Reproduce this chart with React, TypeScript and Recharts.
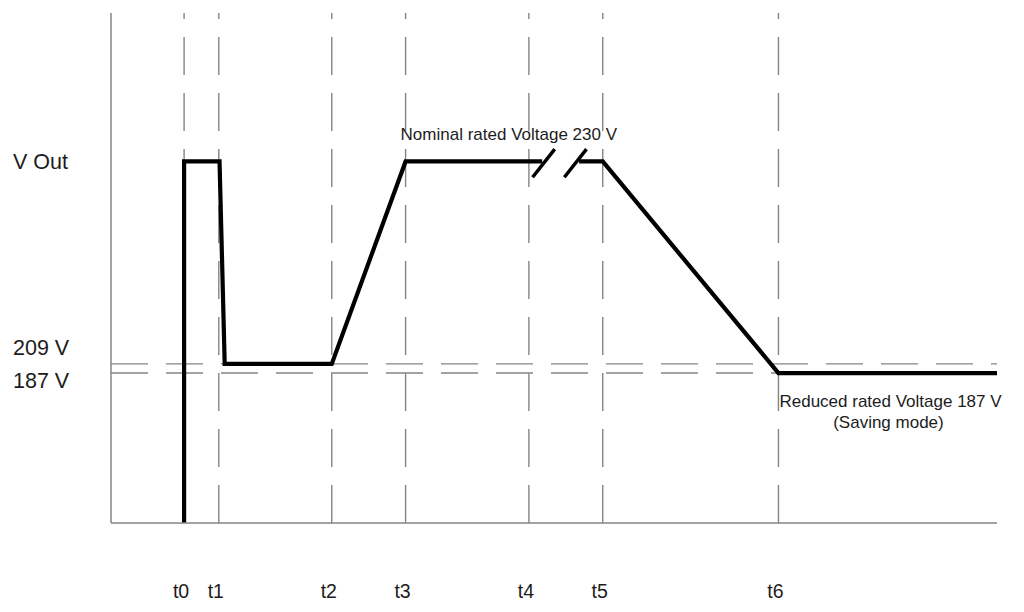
import React from 'react';
import { LineChart, Line, XAxis, YAxis, ReferenceLine, ReferenceDot } from 'recharts';

// time instants (arbitrary units, 0-120 across the axis)
const timeLabels = ['t0', 't1', 't2', 't3', 't4', 't5', 't6'];
const timeMarks = [9.9, 14.6, 29.9, 39.9, 56.6, 66.6, 90.4];

// schematic output level (0-100, not to scale)
const levelLabels = ['187 V', '209 V', 'V Out'];
const levelMarks = [29.4, 31.2, 70.9];

// output voltage trace, split at the time break between t4 and t5
const traceBeforeBreak = [
  { t: 9.9, v: 0 },
  { t: 9.9, v: 70.9 },
  { t: 14.7, v: 70.9 },
  { t: 15.4, v: 31.2 },
  { t: 29.9, v: 31.2 },
  { t: 39.9, v: 70.9 },
  { t: 58.4, v: 70.9 },
];
const traceAfterBreak = [
  { t: 63.4, v: 70.9 },
  { t: 66.6, v: 70.9 },
  { t: 90.4, v: 29.4 },
  { t: 120, v: 29.4 },
];
const breakMarkA = [{ t: 57.1, v: 67.8 }, { t: 60.1, v: 73.3 }];
const breakMarkB = [{ t: 61.4, v: 67.8 }, { t: 64.4, v: 73.3 }];

const FONT = '"Liberation Sans", Arial, Helvetica, sans-serif';
const GRAY = '#858585';
const INK = '#1c1c1c';

// vertical nudges for the level labels (above / centred / below their line)
const levelDy: Record<string, number> = { '187 V': 15, '209 V': -9, 'V Out': 7.5 };

const TimeTick = (props: any) => {
  const { x, y, payload } = props;
  const label = timeLabels[timeMarks.indexOf(payload.value)];
  return (
    <text x={x - 3} y={y + 67} textAnchor="middle" fontFamily={FONT} fontSize={19.5} fill={INK}>
      {label}
    </text>
  );
};

const LevelTick = (props: any) => {
  const { y, payload } = props;
  const label = levelLabels[levelMarks.indexOf(payload.value)];
  return (
    <text x={13} y={y + levelDy[label]} textAnchor="start" fontFamily={FONT} fontSize={21.5} fill={INK}>
      {label}
    </text>
  );
};

const NominalLabel = (props: any) => {
  const { viewBox } = props;
  const cx = viewBox.x + viewBox.width / 2;
  const cy = viewBox.y + viewBox.height / 2;
  return (
    <text x={cx - 5} y={cy - 21} fontFamily={FONT} fontSize={17} fill={INK}>
      Nominal rated Voltage 230 V
    </text>
  );
};

const ReducedLabel = (props: any) => {
  const { viewBox } = props;
  const cx = viewBox.x + viewBox.width / 2;
  const cy = viewBox.y + viewBox.height / 2;
  return (
    <g fontFamily={FONT} fontSize={17} fill={INK}>
      <text x={cx + 1} y={cy + 34}>Reduced rated Voltage 187 V</text>
      <text x={cx + 110} y={cy + 55} textAnchor="middle">(Saving mode)</text>
    </g>
  );
};

export default function App() {
  return (
    <div style={{ position: 'absolute', left: 0, top: 0, width: 1024, height: 612, background: '#fff' }}>
      <LineChart width={1024} height={612} margin={{ top: 13, right: 27, left: 0, bottom: 0 }}>
        <XAxis
          type="number"
          dataKey="t"
          domain={[0, 120]}
          ticks={timeMarks}
          interval={0}
          tickLine={false}
          axisLine={{ stroke: GRAY, strokeWidth: 1.5 }}
          tick={<TimeTick />}
          height={89}
        />
        <YAxis
          type="number"
          dataKey="v"
          domain={[0, 100]}
          ticks={levelMarks}
          interval={0}
          tickLine={false}
          axisLine={{ stroke: GRAY, strokeWidth: 1.5 }}
          tick={<LevelTick />}
          width={111}
        />
        {timeMarks.map((t) => (
          <ReferenceLine key={t} x={t} stroke={GRAY} strokeWidth={1.4} strokeDasharray="38 18" />
        ))}
        {levelMarks.slice(0, 2).map((v) => (
          <ReferenceLine key={v} y={v} stroke={GRAY} strokeWidth={1.4} strokeDasharray="37 18" />
        ))}
        <Line data={traceBeforeBreak} dataKey="v" type="linear" stroke="#000" strokeWidth={4.2}
          strokeLinejoin="miter" dot={false} activeDot={false} isAnimationActive={false} />
        <Line data={traceAfterBreak} dataKey="v" type="linear" stroke="#000" strokeWidth={4.2}
          strokeLinejoin="miter" dot={false} activeDot={false} isAnimationActive={false} />
        <Line data={breakMarkA} dataKey="v" type="linear" stroke="#000" strokeWidth={3.5}
          dot={false} activeDot={false} isAnimationActive={false} />
        <Line data={breakMarkB} dataKey="v" type="linear" stroke="#000" strokeWidth={3.5}
          dot={false} activeDot={false} isAnimationActive={false} />
        <ReferenceDot x={timeMarks[3]} y={levelMarks[2]} r={1} fill="none" stroke="none"
          label={<NominalLabel />} />
        <ReferenceDot x={timeMarks[6]} y={levelMarks[0]} r={1} fill="none" stroke="none"
          label={<ReducedLabel />} />
      </LineChart>
    </div>
  );
}
